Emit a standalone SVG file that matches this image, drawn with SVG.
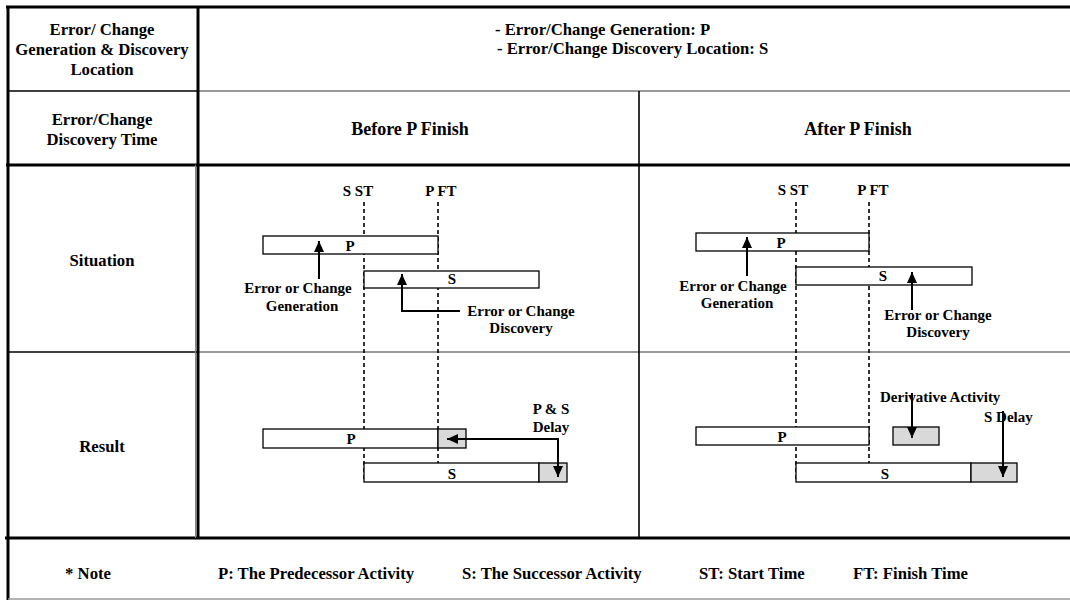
<svg xmlns="http://www.w3.org/2000/svg" width="1070" height="600" viewBox="0 0 1070 600">
<style>
text{font-family:"Liberation Serif","Times New Roman",serif;font-weight:bold;fill:#000}
.h{font-size:16.7px}
.h2{font-size:18px}
.l{font-size:15px}
.m{text-anchor:middle}
.thick{stroke:#000;stroke-width:3;fill:none}
.thin{stroke:#000;stroke-width:1.6;fill:none}
.gray{stroke:#777;stroke-width:1.6;fill:none}
.dash{stroke:#000;stroke-width:1.6;stroke-dasharray:4 3;fill:none}
.bar{fill:#fff;stroke:#000;stroke-width:1.3}
.dl{fill:#d9d9d9;stroke:#000;stroke-width:1.3}
.arr{stroke:#000;stroke-width:2;fill:none;marker-end:url(#ah)}
</style>
<defs>
<marker id="ah" markerUnits="userSpaceOnUse" markerWidth="12" markerHeight="10" refX="11" refY="5" orient="auto">
<path d="M0,0 L11,5 L0,10 z" fill="#000"/>
</marker>
</defs>
<rect width="1070" height="600" fill="#fff"/>
<g id="table">
<line class="thick" x1="6" y1="7" x2="1070" y2="7"/>
<line class="thick" x1="8" y1="6" x2="8" y2="600"/>
<line class="thin" x1="8" y1="91" x2="198" y2="91"/>
<line class="gray" x1="198" y1="91" x2="1070" y2="91"/>
<line class="thick" x1="6" y1="165" x2="1070" y2="165"/>
<line class="thin" x1="8" y1="352" x2="198" y2="352"/>
<line class="gray" x1="198" y1="352" x2="1070" y2="352"/>
<line class="thick" x1="5" y1="538" x2="1070" y2="538"/>
<line x1="8" y1="599" x2="1070" y2="599" stroke="#999" stroke-width="1.5"/>
<line class="thick" x1="198" y1="7" x2="198" y2="538"/>
<line x1="195.5" y1="165" x2="195.5" y2="538" stroke="#888" stroke-width="1"/>
<line class="thin" x1="639" y1="91" x2="639" y2="538"/>
</g>
<g id="headers">
<text class="h m" x="102" y="35">Error/ Change</text>
<text class="h m" x="102" y="55">Generation &amp; Discovery</text>
<text class="h m" x="102" y="75">Location</text>
<text class="h" x="495" y="35">- Error/Change Generation: P</text>
<text class="h" x="497" y="54">- Error/Change Discovery Location: S</text>
<text class="h m" x="102" y="125">Error/Change</text>
<text class="h m" x="102" y="145">Discovery Time</text>
<text class="h2 m" x="410" y="135">Before P Finish</text>
<text class="h2 m" x="858" y="135">After P Finish</text>
<text class="h m" x="102" y="266">Situation</text>
<text class="h m" x="102" y="452">Result</text>
</g>
<g id="note">
<text class="h m" x="88" y="579">* Note</text>
<text class="h" x="218" y="579">P: The Predecessor Activity</text>
<text class="h" x="462" y="579">S: The Successor Activity</text>
<text class="h" x="699" y="579">ST: Start Time</text>
<text class="h" x="853" y="579">FT: Finish Time</text>
</g>
<g id="timelines">
<line class="dash" x1="364" y1="202" x2="364" y2="482"/>
<line class="dash" x1="438" y1="202" x2="438" y2="482"/>
<line class="dash" x1="796" y1="202" x2="796" y2="482"/>
<line class="dash" x1="869" y1="202" x2="869" y2="482"/>
<text class="l m" x="358" y="196">S ST</text>
<text class="l m" x="441" y="196">P FT</text>
<text class="l m" x="793" y="195">S ST</text>
<text class="l m" x="873" y="195">P FT</text>
</g>
<g id="before-situation">
<rect class="bar" x="263" y="236" width="175" height="18"/>
<text class="l m" x="350" y="251">P</text>
<rect class="bar" x="364" y="271" width="175" height="17"/>
<text class="l m" x="452" y="284">S</text>
<text class="l m" x="298" y="293">Error or Change</text>
<text class="l m" x="302" y="311">Generation</text>
<text class="l m" x="521" y="316">Error or Change</text>
<text class="l m" x="521" y="333">Discovery</text>
</g>
<g id="after-situation">
<rect class="bar" x="696" y="233" width="173" height="18"/>
<text class="l m" x="781" y="248">P</text>
<rect class="bar" x="796" y="267" width="176" height="18"/>
<text class="l m" x="883" y="281">S</text>
<text class="l m" x="733" y="291">Error or Change</text>
<text class="l m" x="737" y="308">Generation</text>
<text class="l m" x="938" y="320">Error or Change</text>
<text class="l m" x="938" y="337">Discovery</text>
</g>
<g id="before-result">
<rect class="bar" x="263" y="429" width="175" height="19"/>
<rect class="dl" x="438" y="429" width="28" height="19"/>
<text class="l m" x="351" y="444">P</text>
<rect class="bar" x="364" y="463" width="175" height="19"/>
<rect class="dl" x="539" y="463" width="28" height="19"/>
<text class="l m" x="452" y="479">S</text>
<text class="l m" x="551" y="414">P &amp; S</text>
<text class="l m" x="551" y="432">Delay</text>
</g>
<g id="after-result">
<rect class="bar" x="696" y="427" width="173" height="18"/>
<text class="l m" x="782" y="442">P</text>
<rect class="dl" x="893" y="427" width="46" height="18"/>
<text class="l" x="880" y="402">Derivative Activity</text>
<rect class="bar" x="796" y="463" width="175" height="19"/>
<rect class="dl" x="971" y="463" width="46" height="19"/>
<text class="l m" x="885" y="479">S</text>
<text class="l" x="984" y="422">S Delay</text>
</g>
<g id="connectors">
<line class="arr" x1="319" y1="279" x2="319" y2="241"/>
<path class="arr" d="M460,311 L402,311 L402,274"/>
<line class="arr" x1="747" y1="276" x2="747" y2="237"/>
<line class="arr" x1="912" y1="310" x2="912" y2="272"/>
<path class="arr" d="M558,439 L447,439"/>
<line class="arr" x1="558" y1="438" x2="558" y2="477"/>
<line class="arr" x1="912" y1="393" x2="912" y2="438"/>
<line class="arr" x1="1003" y1="411" x2="1003" y2="477"/>
</g>
</svg>
